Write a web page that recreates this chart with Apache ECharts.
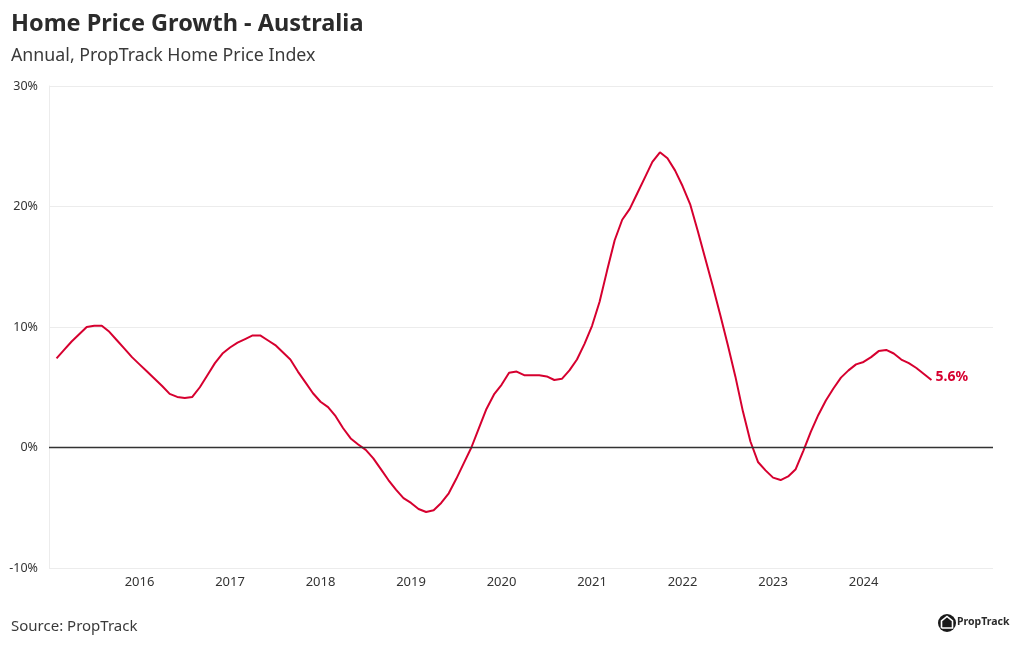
<!DOCTYPE html>
<html>
<head>
<meta charset="utf-8">
<script src="https://cdn.jsdelivr.net/npm/echarts@6/dist/echarts.min.js"></script>
<style>
html,body{margin:0;padding:0;background:#fff;}
#chart{width:1020px;height:650px;}
</style>
</head>
<body>
<div id="chart"></div>
<script>
// Monthly annual growth (%), Feb 2015 – Oct 2024
const firstMonth = { year: 2015, month: 2 };
const growth2015 = [7.4, 8.1, 8.8, 9.4, 10.0, 10.1, 10.1, 9.6, 8.9, 8.2, 7.5];
const growth2016 = [6.9, 6.3, 5.7, 5.1, 4.45, 4.2, 4.1, 4.2, 5.0, 6.0, 7.0, 7.8];
const growth2017 = [8.3, 8.7, 9.0, 9.3, 9.3, 8.9, 8.5, 7.9, 7.3, 6.3, 5.4, 4.5];
const growth2018 = [3.8, 3.35, 2.6, 1.6, 0.75, 0.25, -0.2, -0.9, -1.8, -2.7, -3.5, -4.2];
const growth2019 = [-4.6, -5.1, -5.35, -5.2, -4.6, -3.8, -2.6, -1.3, 0.0, 1.6, 3.2, 4.4];
const growth2020 = [5.2, 6.2, 6.3, 6.0, 6.0, 6.0, 5.9, 5.6, 5.7, 6.4, 7.3, 8.6];
const growth2021 = [10.1, 12.1, 14.7, 17.2, 18.9, 19.8, 21.1, 22.4, 23.7, 24.5, 24.0, 23.0];
const growth2022 = [21.7, 20.2, 18.0, 15.7, 13.4, 11.0, 8.5, 5.9, 3.0, 0.5, -1.2, -1.9];
const growth2023 = [-2.5, -2.7, -2.4, -1.8, -0.3, 1.3, 2.7, 3.9, 4.9, 5.8, 6.4, 6.9];
const growth2024 = [7.1, 7.5, 8.0, 8.1, 7.8, 7.3, 7.0, 6.6, 6.1, 5.6];

const yearLabels = ['2016', '2017', '2018', '2019', '2020', '2021', '2022', '2023', '2024'];
const yTicks = [-10, 0, 10, 20, 30];

const values = [].concat(growth2015, growth2016, growth2017, growth2018, growth2019,
  growth2020, growth2021, growth2022, growth2023, growth2024);
// month position as decimal year (Jan = whole year)
const points = values.map((v, i) => {
  const m = firstMonth.month - 1 + i;
  return [firstMonth.year + m / 12, v];
});

const RED = '#d6002f';
const chart = echarts.init(document.getElementById('chart'));
const FONT = 'Noto Sans';
chart.setOption({
  animation: false,
  backgroundColor: '#fff',
  textStyle: { fontFamily: FONT },
  title: [
    { text: 'Home Price Growth - Australia', left: 6, top: 7, padding: 5,
      textStyle: { fontFamily: FONT, fontSize: 23.5, fontWeight: 'bold', color: '#2b2b2b' } },
    { text: 'Annual, PropTrack Home Price Index', left: 6, top: 42,
      textStyle: { fontFamily: FONT, fontSize: 17.8, fontWeight: 'normal', color: '#3a3a3a' } },
    { text: 'Source: PropTrack', left: 6, top: 614,
      textStyle: { fontFamily: FONT, fontSize: 15, fontWeight: 'normal', color: '#3a3a3a' } }
  ],
  grid: { left: 49, right: 27, top: 86, bottom: 82, containLabel: false },
  xAxis: {
    type: 'value',
    min: 2015,
    max: 2025.43,
    interval: 1,
    axisLine: { show: false },
    axisTick: { show: false },
    splitLine: { show: false },
    axisLabel: {
      color: '#333', fontSize: 13, margin: 8, fontFamily: FONT,
      showMinLabel: false, showMaxLabel: false,
      formatter: v => yearLabels.includes(String(v)) ? String(v) : ''
    }
  },
  yAxis: {
    type: 'value',
    min: yTicks[0],
    max: yTicks[yTicks.length - 1],
    interval: 10,
    axisLine: { show: true, lineStyle: { color: '#ececec', width: 1 } },
    axisTick: { show: false },
    splitLine: { show: true, lineStyle: { color: '#ececec', width: 1 } },
    axisLabel: { color: '#333', fontSize: 12.5, margin: 11, fontFamily: FONT, formatter: '{value}%' }
  },
  series: [{
    type: 'line',
    data: points,
    showSymbol: false,
    smooth: false,
    lineStyle: { color: RED, width: 2 },
    itemStyle: { color: RED },
    endLabel: {
      show: true,
      formatter: p => p.value[1].toFixed(1) + '%',
      color: RED, fontWeight: 'bold', fontSize: 14, fontFamily: FONT, distance: 4,
      offset: [0, -3]
    },
    markLine: {
      silent: true,
      symbol: 'none',
      label: { show: false },
      lineStyle: { color: '#333', width: 1.3, type: 'solid' },
      data: [{ yAxis: 0 }]
    },
    z: 3
  }],
  graphic: [
    { type: 'circle', left: 938, top: 614, shape: { r: 9 }, style: { fill: '#1a1a1a' } },
    { type: 'polyline', shape: { points: [[941.5, 628], [941.5, 621], [947, 616.5], [952.5, 621], [952.5, 628], [941.5, 628]] },
      style: { stroke: '#fff', lineWidth: 1.6, fill: 'none' } },
    { type: 'text', left: 957, top: 617,
      style: { text: 'PropTrack', fontFamily: FONT, fontSize: 10.5, fontWeight: 'bold', fill: '#2b2b2b' } }
  ]
});
</script>
</body>
</html>
